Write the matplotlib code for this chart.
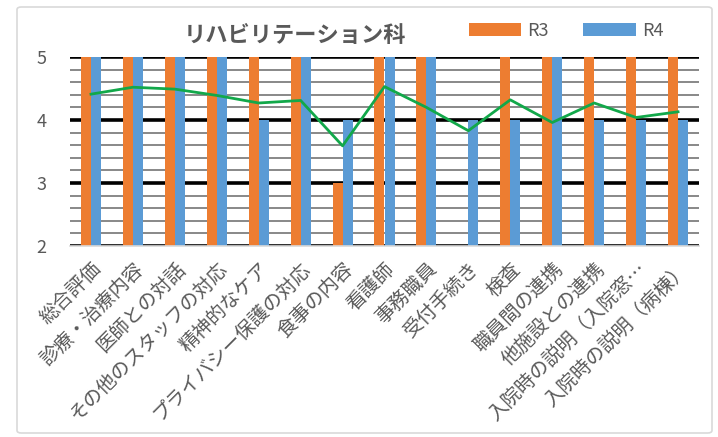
import numpy as np
import matplotlib
matplotlib.use("Agg")
import matplotlib.pyplot as plt
from matplotlib.patches import FancyBboxPatch

plt.rcParams['font.family'] = ['Noto Sans CJK JP', 'DejaVu Sans']

categories = ["総合評価", "診療・治療内容", "医師との対話", "その他のスタッフの対応",
              "精神的なケア", "プライバシー保護の対応", "食事の内容", "看護師", "事務職員",
              "受付手続き", "検査", "職員間の連携", "他施設との連携",
              "入院時の説明（入院窓…", "入院時の説明（病棟）"]
r3 = [5, 5, 5, 5, 5, 5, 3, 5, 5, np.nan, 5, 5, 5, 5, 5]
r4 = [5, 5, 5, 5, 4, 5, 4, 5, 5, 4, 4, 5, 4, 4, 4]
avg = [4.41, 4.52, 4.49, 4.39, 4.27, 4.31, 3.59, 4.53, 4.20, 3.83, 4.32, 3.96, 4.27, 4.04, 4.13]

text_col = "#595959"

fig = plt.figure(figsize=(7.18, 4.37), dpi=100)
ax = fig.add_axes([70 / 718, 1 - 246 / 437, (699 - 70) / 718, (246 - 57) / 437])

# border around chart area
fig.patches.append(FancyBboxPatch((17 / 718, 4 / 437), 695 / 718, 426 / 437,
                                  boxstyle="round,pad=0,rounding_size=0.006",
                                  transform=fig.transFigure, fc="none",
                                  ec="#D9D9D9", lw=1.2))

x = np.arange(len(categories))
w = 0.24
ax.bar(x - w / 2, r3, w, color="#ED7D31", label="R3", zorder=3)
ax.bar(x + w / 2, r4, w, color="#5B9BD5", label="R4", zorder=3)
ax.plot(x, avg, color="#12A84A", lw=2, zorder=4)

ax.set_ylim(2, 5)
ax.set_xlim(-0.5, len(categories) - 0.5)
ax.set_yticks([2, 3, 4, 5])
ax.set_yticks(np.arange(2, 5.01, 0.2), minor=True)
ax.grid(axis="y", which="minor", color="#7F7F7F", lw=1.3, zorder=1)
ax.grid(axis="y", which="major", color="black", lw=2.6, zorder=2)
ax.set_axisbelow(True)

for s in ["top", "right", "left"]:
    ax.spines[s].set_visible(False)
ax.spines["bottom"].set_color("#D9D9D9")
ax.spines["bottom"].set_linewidth(1.2)
ax.spines["bottom"].set_zorder(5)

ax.tick_params(axis="both", which="both", length=0)
ax.tick_params(axis="y", labelsize=13, labelcolor=text_col, pad=17)
ax.set_xticks(x)
ax.set_xticklabels(categories, rotation=45, ha="right", rotation_mode="anchor",
                   fontsize=14, color=text_col)
ax.tick_params(axis="x", pad=9)

fig.text(295 / 718, 1 - 35 / 437, "リハビリテーション科", ha="center", va="center",
         fontsize=16, fontweight="bold", color=text_col)

fig.legend(loc="center", bbox_to_anchor=(566 / 718, 1 - 31 / 437), ncol=2,
           frameon=False, fontsize=13, labelcolor=text_col,
           handlelength=2.9, handleheight=0.7, columnspacing=1.9, handletextpad=0.35)

fig.savefig("out.png", dpi=100)
